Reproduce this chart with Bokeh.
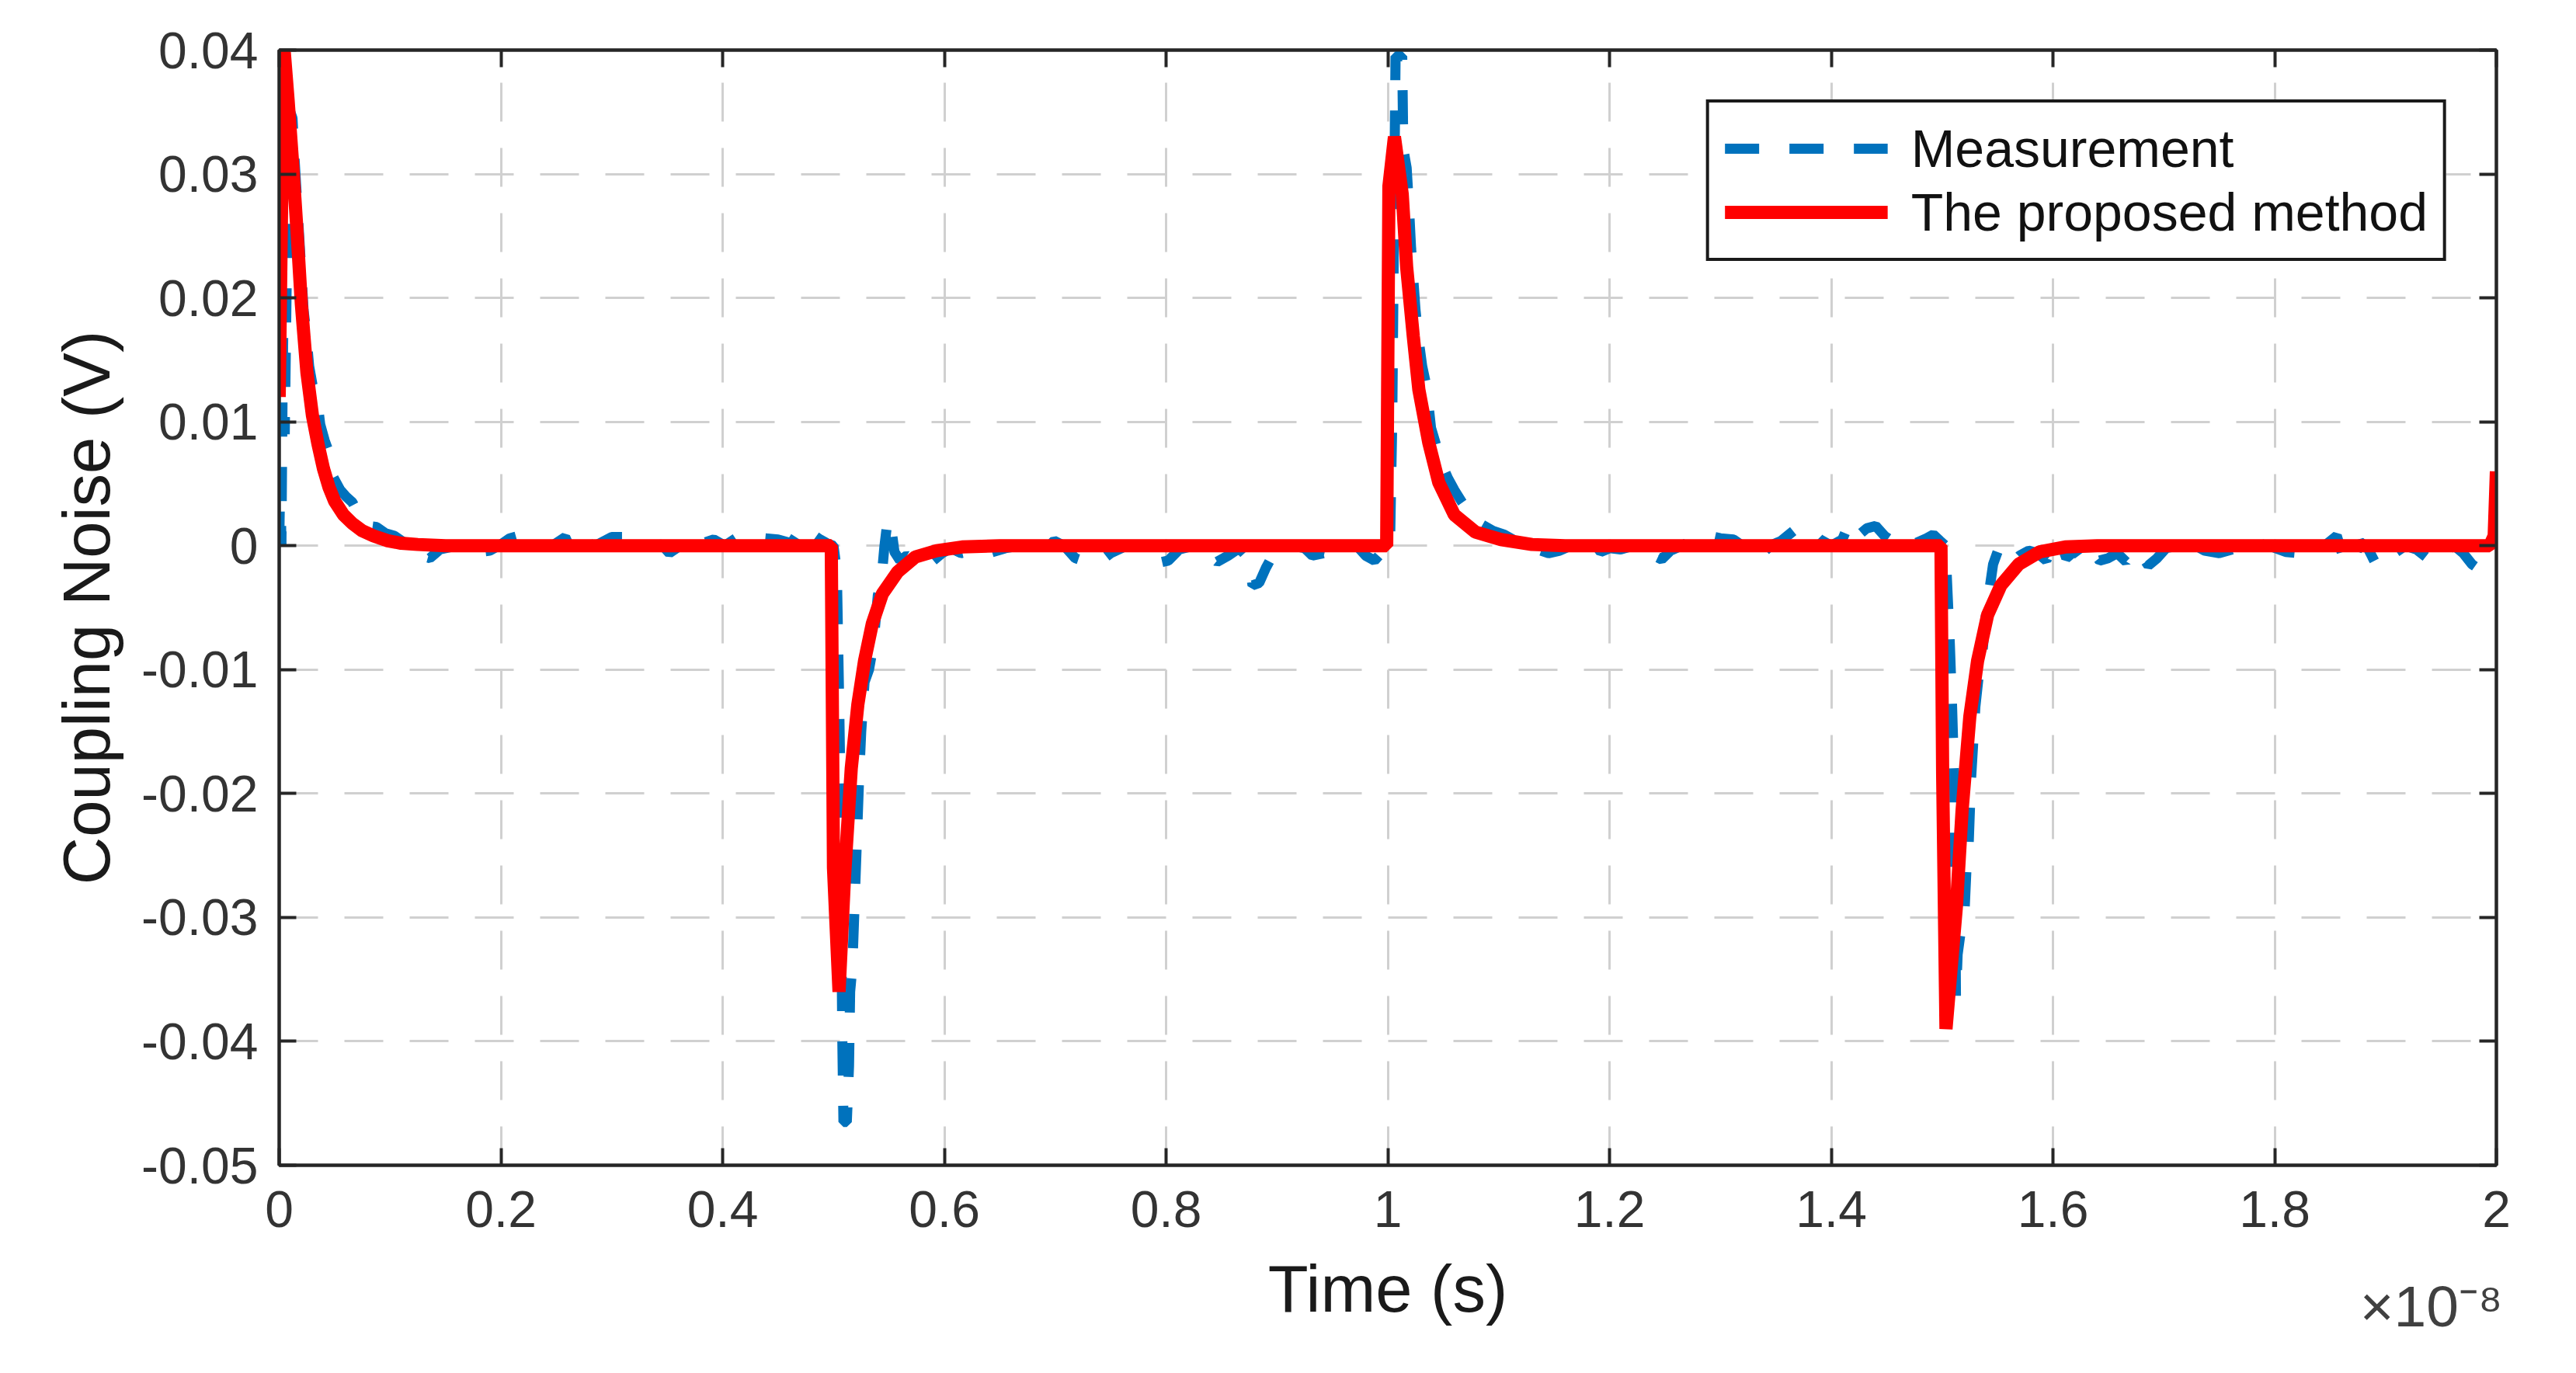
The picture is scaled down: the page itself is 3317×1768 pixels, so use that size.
from bokeh.plotting import figure
from bokeh.models import Range1d, FixedTicker, LinearAxis, Legend, LegendItem, Title
from bokeh.embed import file_html
from bokeh.resources import INLINE

# ---------------- data (time in units of 1e-8 s, voltage in V) ----------------
x_ticks = [0, 0.2, 0.4, 0.6, 0.8, 1, 1.2, 1.4, 1.6, 1.8, 2]
x_tick_labels = ["0", "0.2", "0.4", "0.6", "0.8", "1", "1.2", "1.4", "1.6", "1.8", "2"]
y_ticks = [0.04, 0.03, 0.02, 0.01, 0, -0.01, -0.02, -0.03, -0.04, -0.05]
y_tick_labels = ["0.04", "0.03", "0.02", "0.01", "0", "-0.01", "-0.02", "-0.03", "-0.04", "-0.05"]
x_multiplier = "×10⁻⁸"

# Measurement (blue dashed), by segment
t_meas_p1 = [0.000, 0.001, 0.002, 0.003, 0.004, 0.005, 0.006, 0.008, 0.010, 0.012, 0.014, 0.016, 0.018,
             0.020, 0.022, 0.024, 0.027, 0.030, 0.034, 0.037, 0.041, 0.045, 0.049, 0.055, 0.060, 0.066,
             0.072, 0.080, 0.088, 0.096, 0.104, 0.112, 0.120, 0.128, 0.136, 0.145]
v_meas_p1 = [0.000, 0.006, 0.000, 0.012, 0.020, 0.009, 0.016, 0.030, 0.035, 0.0345, 0.031, 0.028, 0.025,
             0.022, 0.019, 0.0175, 0.0145, 0.013, 0.012, 0.0098, 0.0085, 0.0075, 0.0055, 0.0045, 0.004, 0.0035,
             0.0025, 0.0016, 0.0015, 0.001, 0.0008, 0.0003, -0.0002, -0.0008, -0.001, -0.0003]
t_meas_b1 = [0.155, 0.168, 0.180, 0.190, 0.200, 0.208, 0.216, 0.224, 0.236, 0.248, 0.258, 0.264, 0.272,
             0.285, 0.300, 0.312, 0.325, 0.335, 0.345, 0.352, 0.360, 0.370, 0.382, 0.392, 0.402, 0.412,
             0.425, 0.438, 0.450, 0.462, 0.472, 0.480, 0.488, 0.494]
v_meas_b1 = [-0.0001, 0.0002, -0.0005, -0.0004, 0.0001, 0.0006, 0.0008, 0.0003, 0.0, 0.0001, 0.0007, -0.0005,
             0.0004, 0.0, 0.0007, 0.0007, 0.0006, 0.0, 0.0001, -0.0006, -0.0001, 0.0005, 0.0002, 0.0005, 0.0,
             0.0006, 0.0004, 0.0006, 0.0005, 0.0002, 0.0016, 0.0010, 0.0005, 0.0002]
t_meas_p2 = [0.500, 0.503, 0.505, 0.506, 0.507, 0.508, 0.509, 0.512, 0.514, 0.515, 0.517, 0.519, 0.521,
             0.523, 0.525, 0.528, 0.532, 0.536, 0.540, 0.543, 0.546, 0.549, 0.552, 0.555, 0.560, 0.566,
             0.574, 0.582, 0.590, 0.598, 0.606, 0.615, 0.625, 0.640, 0.655]
v_meas_p2 = [0.0, -0.002, -0.012, -0.018, -0.030, -0.040, -0.0465, -0.0465, -0.042, -0.036, -0.034, -0.029,
             -0.024, -0.019, -0.015, -0.011, -0.010, -0.008, -0.004, -0.003, 0.000, 0.0022, 0.0015, -0.0005,
             -0.0012, -0.0008, -0.0012, -0.0016, -0.0012, -0.0006, -0.0002, -0.0006, -0.0004, -0.0006, -0.0002]
t_meas_b2 = [0.668, 0.680, 0.690, 0.699, 0.708, 0.718, 0.728, 0.740, 0.750, 0.762, 0.772, 0.782, 0.792,
             0.802, 0.812, 0.825, 0.836, 0.846, 0.856, 0.866, 0.874, 0.878, 0.884, 0.890, 0.896, 0.905,
             0.915, 0.925, 0.932, 0.942, 0.952, 0.962, 0.972, 0.980, 0.988, 0.994]
v_meas_b2 = [0.0, -0.0003, -0.0004, 0.0004, 0.0, -0.0010, -0.0013, -0.0013, -0.0006, -0.0001, 0.0, -0.0008,
             -0.0014, -0.0012, -0.0003, 0.0, -0.0006, -0.0013, -0.0008, -0.0002, -0.0010, -0.0032, -0.0030,
             -0.0018, -0.0008, -0.0003, 0.0, -0.0002, -0.0008, -0.0006, -0.0008, -0.0004, 0.0, -0.0008,
             -0.0012, -0.0006]
t_meas_p3 = [0.998, 1.002, 1.004, 1.006, 1.007, 1.013, 1.014, 1.017, 1.019, 1.021, 1.023, 1.025, 1.028,
             1.031, 1.035, 1.039, 1.044, 1.049, 1.054, 1.060, 1.067, 1.075, 1.085, 1.095, 1.105, 1.115,
             1.125, 1.135, 1.145, 1.155, 1.165, 1.175, 1.185, 1.192, 1.200]
v_meas_p3 = [-0.0005, 0.0, 0.010, 0.030, 0.0395, 0.0395, 0.032, 0.0305, 0.0275, 0.024, 0.0215, 0.019, 0.0165,
             0.0145, 0.0128, 0.0095, 0.008, 0.0065, 0.0055, 0.0045, 0.0035, 0.0025, 0.0017, 0.0012, 0.0009,
             0.0004, 0.0002, -0.0003, -0.0006, -0.0004, 0.0, 0.0001, 0.0004, -0.0005, -0.0002]
t_meas_b3 = [1.210, 1.222, 1.232, 1.240, 1.247, 1.255, 1.265, 1.279, 1.290, 1.300, 1.312, 1.320, 1.328,
             1.336, 1.345, 1.355, 1.366, 1.374, 1.382, 1.390, 1.400, 1.410, 1.416, 1.424, 1.432, 1.440,
             1.448, 1.456, 1.466, 1.476, 1.486, 1.492, 1.498]
v_meas_b3 = [-0.0003, 0.0, -0.0004, -0.0008, -0.0011, -0.0004, 0.0, 0.0006, 0.0008, 0.0006, 0.0005, 0.0,
             -0.0012, -0.0008, 0.0, 0.0004, 0.0012, 0.0015, 0.0012, 0.0005, 0.0, 0.0005, 0.0018, 0.0008,
             0.0014, 0.0016, 0.0008, 0.0003, 0.0, 0.0002, 0.0006, 0.0009, 0.0004]
t_meas_p4 = [1.503, 1.505, 1.507, 1.509, 1.511, 1.512, 1.5125, 1.514, 1.517, 1.520, 1.522, 1.524, 1.526,
             1.528, 1.530, 1.533, 1.536, 1.539, 1.542, 1.546, 1.550, 1.555, 1.562, 1.570, 1.578, 1.586,
             1.594, 1.600, 1.606, 1.612, 1.620, 1.626, 1.634, 1.642, 1.650, 1.658, 1.666, 1.672, 1.680,
             1.686, 1.694, 1.702]
v_meas_p4 = [0.0, -0.004, -0.008, -0.013, -0.019, -0.030, -0.0365, -0.033, -0.031, -0.030, -0.026, -0.024,
             -0.019, -0.016, -0.013, -0.0105, -0.009, -0.006, -0.004, -0.0015, -0.0005, -0.0012, -0.0015,
             -0.0008, -0.0004, -0.0006, -0.0012, 0.0004, 0.0006, -0.0010, -0.0004, -0.0011, -0.0003, -0.0012,
             -0.0010, -0.0006, -0.0013, -0.0004, -0.0008, -0.0016, -0.0010, -0.0002]
t_meas_b4 = [1.712, 1.724, 1.737, 1.750, 1.762, 1.772, 1.785, 1.798, 1.810, 1.822, 1.832, 1.845, 1.856,
             1.862, 1.870, 1.877, 1.884, 1.892, 1.900, 1.908, 1.918, 1.928, 1.938, 1.946, 1.954, 1.962,
             1.970, 1.978, 1.986, 1.992, 1.998]
v_meas_b4 = [0.0, 0.0002, -0.0004, -0.0006, -0.0003, 0.0, 0.0002, -0.0001, -0.0005, -0.0006, -0.0002, 0.0,
             0.0008, -0.0010, -0.0015, 0.0003, -0.0002, -0.0016, -0.0014, -0.0006, 0.0, -0.0003, -0.0010,
             -0.0012, -0.0004, 0.0, -0.0006, -0.0015, -0.0020, -0.0012, -0.0008]

# The proposed method (red solid), by segment
t_model_p1 = [0.000, 0.004, 0.008, 0.012, 0.016, 0.020, 0.025, 0.030, 0.035, 0.040, 0.045, 0.050, 0.058,
              0.066, 0.075, 0.085, 0.098, 0.110, 0.125, 0.150]
v_model_p1 = [0.012, 0.0405, 0.036, 0.031, 0.0255, 0.0195, 0.014, 0.0105, 0.0082, 0.0062, 0.0047, 0.0036,
              0.0025, 0.0018, 0.0012, 0.0008, 0.0004, 0.0002, 0.0001, 0.0]
t_model_p2 = [0.498, 0.500, 0.505, 0.510, 0.516, 0.522, 0.528, 0.535, 0.544, 0.558, 0.574, 0.593, 0.616, 0.650]
v_model_p2 = [0.0, -0.026, -0.036, -0.0266, -0.018, -0.0128, -0.0093, -0.0063, -0.0039, -0.0021, -0.0009,
              -0.0004, -0.0001, 0.0]
t_model_p3 = [0.999, 1.001, 1.006, 1.013, 1.017, 1.023, 1.028, 1.037, 1.046, 1.060, 1.079, 1.102, 1.130, 1.160]
v_model_p3 = [0.0, 0.029, 0.033, 0.0284, 0.0225, 0.0169, 0.0126, 0.0083, 0.0051, 0.0025, 0.0011, 0.0005,
              0.0001, 0.0]
t_model_p4 = [1.499, 1.5005, 1.5035, 1.513, 1.518, 1.525, 1.532, 1.541, 1.553, 1.569, 1.588, 1.611, 1.640]
v_model_p4 = [0.0, -0.0184, -0.039, -0.029, -0.0214, -0.0138, -0.0093, -0.0056, -0.0032, -0.0015, -0.0005,
              -0.0001, 0.0]
t_model_end = [1.994, 1.998, 2.000]
v_model_end = [0.0, 0.0008, 0.006]

t_meas = t_meas_p1 + t_meas_b1 + t_meas_p2 + t_meas_b2 + t_meas_p3 + t_meas_b3 + t_meas_p4 + t_meas_b4
v_meas = v_meas_p1 + v_meas_b1 + v_meas_p2 + v_meas_b2 + v_meas_p3 + v_meas_b3 + v_meas_p4 + v_meas_b4
t_model = t_model_p1 + t_model_p2 + t_model_p3 + t_model_p4 + t_model_end
v_model = v_model_p1 + v_model_p2 + v_model_p3 + v_model_p4 + v_model_end
assert len(t_meas) == len(v_meas) and len(t_model) == len(v_model)

# ---------------- figure ----------------
FONT = "Liberation Sans"
AX = "#262626"

p = figure(width=3300, height=1750, x_range=Range1d(0, 2), y_range=Range1d(-0.05, 0.04),
           output_backend="svg", toolbar_location=None,
           min_border_left=359, min_border_right=86, min_border_top=64, min_border_bottom=250,
           background_fill_color="white", border_fill_color="white")
p.outline_line_color = AX
p.outline_line_width = 4

x_over = {t: l for t, l in zip(x_ticks, x_tick_labels)}
y_over = {t: l for t, l in zip(y_ticks, y_tick_labels)}


def style_axis(ax, ticks, over, labels=True):
    ax.ticker = FixedTicker(ticks=ticks)
    ax.major_tick_in = 22
    ax.major_tick_out = 0
    ax.minor_tick_line_color = None
    ax.axis_line_color = AX
    ax.axis_line_width = 4
    ax.major_tick_line_color = AX
    ax.major_tick_line_width = 4
    ax.major_label_text_font = FONT
    if labels:
        ax.major_label_overrides = over
        ax.major_label_text_font_size = "66px"
        ax.major_label_text_color = "#333333"
    else:
        ax.major_label_text_font_size = "1px"
        ax.major_label_text_color = None
        ax.major_label_standoff = 0
    ax.axis_label_text_font = FONT
    ax.axis_label_text_font_size = "85px"
    ax.axis_label_text_font_style = "normal"
    ax.axis_label_text_color = "#1a1a1a"


style_axis(p.xaxis[0], x_ticks, x_over)
style_axis(p.yaxis[0], y_ticks, y_over)
p.xaxis[0].axis_label = "Time (s)"
p.yaxis[0].axis_label = "Coupling Noise (V)"
p.xaxis[0].major_label_standoff = 33
p.yaxis[0].major_label_standoff = 27
p.xaxis[0].axis_label_standoff = 29
p.yaxis[0].axis_label_standoff = 20

top_ax = LinearAxis()
style_axis(top_ax, x_ticks, x_over, labels=False)
p.add_layout(top_ax, "above")
right_ax = LinearAxis()
style_axis(right_ax, y_ticks, y_over, labels=False)
p.add_layout(right_ax, "right")

p.xgrid.ticker = FixedTicker(ticks=x_ticks)
p.ygrid.ticker = FixedTicker(ticks=y_ticks)
for g in (p.xgrid, p.ygrid):
    g.grid_line_color = "#d0d0d0"
    g.grid_line_width = 3
    g.grid_line_dash = "50 34"

r_meas = p.line(t_meas, v_meas, line_color="#0072BD", line_width=13, line_dash="44 39")
r_model = p.line(t_model, v_model, line_color="#FF0000", line_width=17)

legend = Legend(items=[LegendItem(label="Measurement", renderers=[r_meas]),
                       LegendItem(label="The proposed method", renderers=[r_model])],
                location="top_right", margin=64, padding=20, spacing=4,
                glyph_width=210, glyph_height=70, label_height=70, label_standoff=30,
                label_text_font=FONT, label_text_font_size="68px", label_text_color="#111111",
                border_line_color="#1a1a1a", border_line_width=4, border_line_alpha=1.0,
                background_fill_color="white", background_fill_alpha=1.0)
p.add_layout(legend)

# the x10^-8 exponent note sits beside the x-axis label, right-aligned with the frame
mult = Title(text=x_multiplier, align="right", offset=-8, vertical_align="top", standoff=-140,
             text_font=FONT, text_font_size="75px", text_font_style="normal", text_color="#404040")
p.add_layout(mult, "below")

open("out.html", "w").write(file_html(p, INLINE))
